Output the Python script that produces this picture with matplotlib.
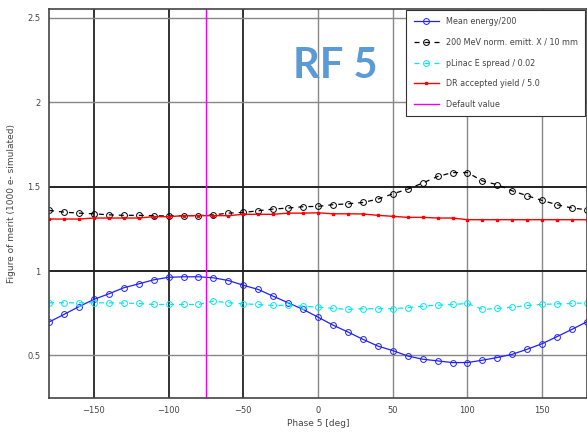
import numpy as np
import matplotlib
matplotlib.use('Agg')
import matplotlib.pyplot as plt

# phase scan, 10 deg steps
phase = list(range(-180, 190, 10))

mean_energy = [0.698, 0.743, 0.789, 0.832, 0.865, 0.901, 0.924, 0.948, 0.963, 0.966,
               0.966, 0.960, 0.944, 0.916, 0.891, 0.851, 0.812, 0.773, 0.727, 0.680,
               0.639, 0.596, 0.556, 0.529, 0.497, 0.478, 0.468, 0.458, 0.458, 0.472,
               0.488, 0.507, 0.537, 0.570, 0.612, 0.655, 0.700]

emitt_x = [1.359, 1.349, 1.343, 1.339, 1.333, 1.330, 1.330, 1.328, 1.326, 1.328,
           1.328, 1.333, 1.343, 1.347, 1.357, 1.367, 1.373, 1.381, 1.383, 1.393,
           1.398, 1.406, 1.426, 1.457, 1.485, 1.521, 1.560, 1.583, 1.583, 1.534,
           1.511, 1.475, 1.446, 1.418, 1.393, 1.373, 1.363]

e_spread = [0.812, 0.812, 0.812, 0.812, 0.812, 0.810, 0.808, 0.802, 0.802, 0.802,
            0.802, 0.822, 0.812, 0.806, 0.802, 0.796, 0.798, 0.792, 0.786, 0.779,
            0.773, 0.777, 0.777, 0.777, 0.783, 0.792, 0.798, 0.802, 0.808, 0.773,
            0.779, 0.786, 0.796, 0.802, 0.806, 0.808, 0.812]

dr_yield = [1.308, 1.308, 1.308, 1.314, 1.314, 1.314, 1.314, 1.322, 1.322, 1.328,
            1.328, 1.328, 1.328, 1.336, 1.336, 1.336, 1.343, 1.343, 1.345, 1.339,
            1.339, 1.338, 1.330, 1.324, 1.318, 1.318, 1.314, 1.314, 1.304, 1.304,
            1.304, 1.304, 1.304, 1.304, 1.304, 1.304, 1.304]

default_phase = -75

fig = plt.figure(figsize=(5.87, 4.33), dpi=100)
ax = fig.add_axes([49 / 587, 1 - 397.7 / 433, 1 - 49 / 587, (397.7 - 9.3) / 433])

ax.plot(phase, mean_energy, color='#2020ff', lw=0.9, marker='o', ms=4.2,
        mfc='none', mew=0.7, label='Mean energy/200')
ax.plot(phase, emitt_x, color='black', lw=0.9, ls=(0, (4, 4)), marker='o', ms=4.2,
        mfc='none', mew=0.7, label='200 MeV norm. emitt. X / 10 mm')
ax.plot(phase, e_spread, color='#00e8f0', lw=0.9, ls=(0, (4, 4)), marker='o', ms=4.2,
        mfc='none', mew=0.7, label='pLinac E spread / 0.02')
ax.plot(phase, dr_yield, color='red', lw=1.0, marker='s', ms=1.8,
        label='DR accepted yield / 5.0')
ax.axvline(default_phase, color='#ee00ee', lw=1.0, label='Default value')

ax.set_xlim(-180, 180)
ax.set_ylim(0.25, 2.55)
ax.set_xticks([-150, -100, -50, 0, 50, 100, 150])
ax.set_yticks([0.5, 1, 1.5, 2, 2.5])
ax.set_yticklabels(['0.5', '1', '1.5', '2', '2.5'])
ax.tick_params(length=0, labelsize=6, colors='#444444', pad=6)

ax.grid(True, color='#888888', lw=1.0)
ax.set_axisbelow(True)
for i, gl in enumerate(ax.xaxis.get_gridlines()):
    if i < 3:
        gl.set_color('#333333')
        gl.set_linewidth(1.4)
for i, gl in enumerate(ax.yaxis.get_gridlines()):
    if i in (1, 2):
        gl.set_color('#222222')
        gl.set_linewidth(1.4)

for s in ax.spines.values():
    s.set_color('#444444')
    s.set_linewidth(1.2)

ax.set_xlabel('Phase 5 [deg]', fontsize=6.5, color='#444444', labelpad=3)
ax.set_ylabel('Figure of merit (1000 e- simulated)', fontsize=6.5, color='#444444', labelpad=8)

leg = ax.legend(loc='upper right', bbox_to_anchor=(585 / 587, 1 - 10 / 433),
                bbox_transform=fig.transFigure, fontsize=5.8, numpoints=1,
                handlelength=3.2, handletextpad=0.8, labelspacing=1.45,
                borderpad=0.9, borderaxespad=0,
                fancybox=False, framealpha=1, edgecolor='#333333')
leg.get_frame().set_linewidth(0.8)
for t in leg.get_texts():
    t.set_color('#444444')

fig.text(335 / 587, 1 - 66 / 433, 'RF 5', fontsize=30, fontweight='bold',
         family=['Lato', 'DejaVu Sans'], color='#5b9bd5', ha='center', va='center')

fig.savefig('out.png', dpi=100)
